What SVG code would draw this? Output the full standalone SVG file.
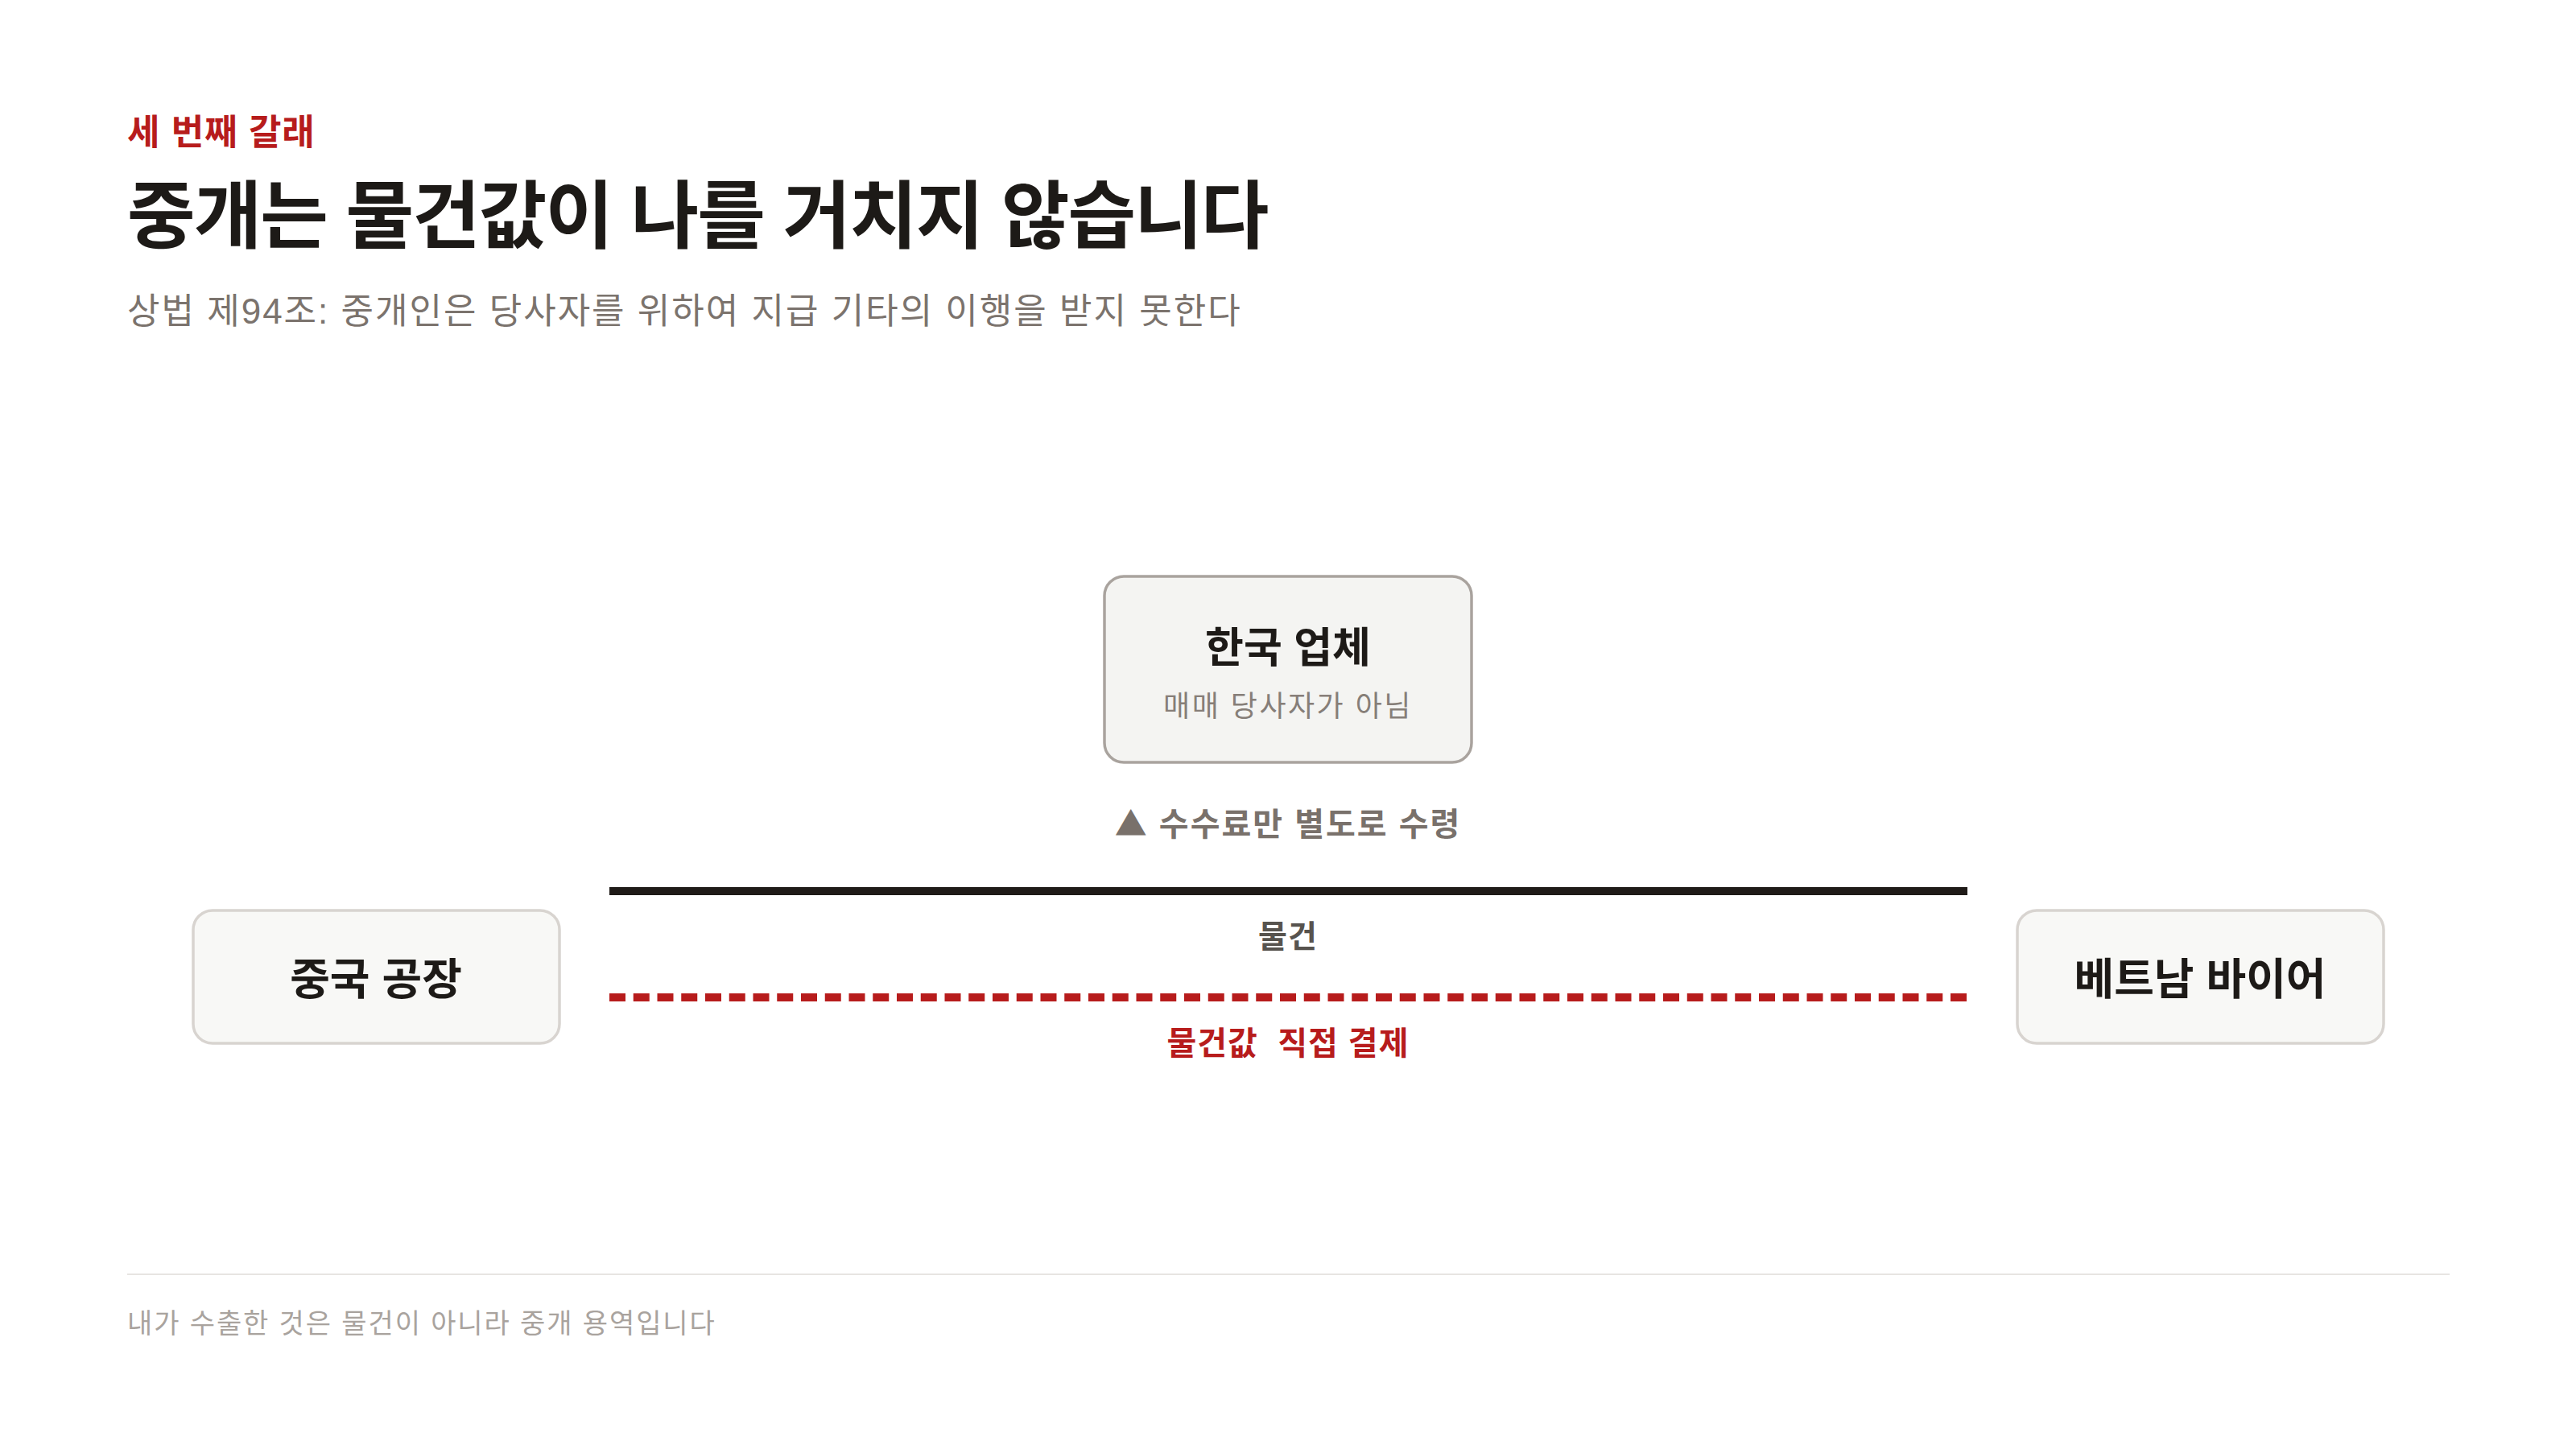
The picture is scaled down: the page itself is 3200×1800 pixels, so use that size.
<svg xmlns="http://www.w3.org/2000/svg" width="3200" height="1800" viewBox="0 0 3200 1800">
<style>
text{font-family:'Liberation Sans','Noto Sans CJK KR',sans-serif}
.b{font-weight:700}
.node{fill:#f8f8f6;stroke:#d8d4d0;stroke-width:3.5}
.nodeT{fill:#f4f4f2;stroke:#a9a39e;stroke-width:3.5}
.nt{font-size:54px;font-weight:700;fill:#1d1a17;text-anchor:middle}
</style>
<rect width="3200" height="1800" fill="#ffffff"/>
<g id="header">
<text x="158" y="180" class="b" font-size="44" letter-spacing="1" fill="#b71c1c">세 번째 갈래</text>
<text x="158" y="301" class="b" font-size="92" letter-spacing="-2" fill="#1d1a17">중개는 물건값이 나를 거치지 않습니다</text>
<text x="158" y="402" font-size="44" letter-spacing="2" fill="#7b736d">상법 제94조: 중개인은 당사자를 위하여 지급 기타의 이행을 받지 못한다</text>
</g>
<g id="connectors">
<line x1="757" y1="1107" x2="2444" y2="1107" stroke="#1f1b18" stroke-width="10"/>
<line x1="757" y1="1239" x2="2444" y2="1239" stroke="#b71c1c" stroke-width="10" stroke-dasharray="20 9.75"/>
<text x="1600" y="1038" class="b" font-size="40" letter-spacing="2" fill="#79716b" text-anchor="middle"><tspan font-family="'Noto Sans CJK KR',sans-serif">▲</tspan> 수수료만 별도로 수령</text>
<text x="1600" y="1177" class="b" font-size="39" letter-spacing="1" fill="#57534e" text-anchor="middle">물건</text>
<text x="1600" y="1310" class="b" font-size="40" letter-spacing="1" fill="#b71c1c" text-anchor="middle" xml:space="preserve">물건값  직접 결제</text>
</g>
<g id="node-korea">
<rect class="nodeT" x="1372" y="716" width="456" height="231" rx="24"/>
<text x="1600" y="823" class="b" font-size="52" fill="#1d1a17" text-anchor="middle">한국 업체</text>
<text x="1600" y="890" font-size="36" letter-spacing="2.5" fill="#867e78" text-anchor="middle">매매 당사자가 아님</text>
</g>
<g id="node-china">
<rect class="node" x="240" y="1131" width="455" height="165" rx="24"/>
<text x="467" y="1236" class="nt">중국 공장</text>
</g>
<g id="node-vietnam">
<rect class="node" x="2506" y="1131" width="455" height="165" rx="24"/>
<text x="2733" y="1236" class="nt">베트남 바이어</text>
</g>
<g id="footer">
<line x1="158" y1="1583" x2="3043" y2="1583" stroke="#e7e5e2" stroke-width="2"/>
<text x="158" y="1656" font-size="34" letter-spacing="1.9" fill="#a9a39e">내가 수출한 것은 물건이 아니라 중개 용역입니다</text>
</g>
</svg>
